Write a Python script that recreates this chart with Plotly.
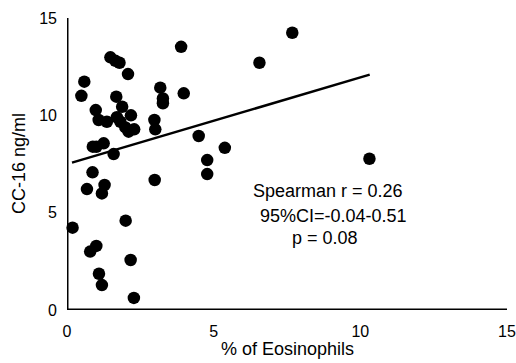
import plotly.graph_objects as go

eos = [0.19, 0.49, 0.59, 0.68, 0.79, 0.87, 0.88, 1.0, 0.98, 1.0, 1.08, 1.09, 1.19, 1.19,
       1.25, 1.28, 1.36, 1.48, 1.59, 1.65, 1.68, 1.70, 1.79, 1.82, 1.88, 1.99, 2.0,
       2.08, 2.1, 2.17, 2.18, 2.28, 2.29, 2.98, 2.99, 3.01, 3.18, 3.27, 3.27, 3.89,
       3.98, 4.49, 4.78, 4.78, 5.38, 6.56, 7.68, 10.31]
cc16 = [4.23, 11.0, 11.73, 6.21, 3.0, 7.07, 8.39, 8.38, 10.27, 3.29, 9.76, 1.86, 1.28, 5.99,
        8.56, 6.42, 9.67, 12.98, 8.01, 12.8, 10.96, 9.9, 12.7, 9.67, 10.44, 9.38, 4.59,
        12.12, 9.16, 2.57, 10.0, 0.62, 9.28, 9.76, 6.68, 9.28, 11.42, 10.87, 10.62, 13.52,
        11.13, 8.94, 7.7, 6.98, 8.33, 12.7, 14.24, 7.77]

fit_x = [0.17, 10.32]
fit_y = [7.57, 12.09]

stats_lines = ["Spearman r = 0.26", "95%CI=-0.04-0.51", "p = 0.08"]
stats_x = [6.28, 6.52, 7.6]
stats_y = [6.1, 4.85, 3.7]

tick_vals = [0, 5, 10, 15]
x_title = "% of Eosinophils"
y_title = "CC-16 ng/ml"

W, H = 516, 363
ML, MR, MT, MB = 67, 9, 18, 53
lo, hi = tick_vals[0], tick_vals[-1]
px_x = (W - ML - MR) / (hi - lo)   # pixels per x unit
px_y = (H - MT - MB) / (hi - lo)   # pixels per y unit

fig = go.Figure()
# axis frame (drawn as traces)
fig.add_trace(go.Scatter(x=[lo, lo, hi], y=[hi, lo, lo], mode="lines",
                         line=dict(color="black", width=3),
                         cliponaxis=False, hoverinfo="skip", showlegend=False))
fig.add_trace(go.Scatter(x=tick_vals, y=[lo - 4 / px_y] * len(tick_vals), mode="markers",
                         marker=dict(symbol="line-ns", size=8,
                                     line=dict(color="black", width=3)),
                         cliponaxis=False, hoverinfo="skip", showlegend=False))
fig.add_trace(go.Scatter(x=[lo - 3.5 / px_x] * len(tick_vals), y=tick_vals, mode="markers",
                         marker=dict(symbol="line-ew", size=7,
                                     line=dict(color="black", width=2)),
                         cliponaxis=False, hoverinfo="skip", showlegend=False))

fig.add_trace(go.Scatter(x=eos, y=cc16, mode="markers",
                         marker=dict(color="black", size=12.5),
                         cliponaxis=False, showlegend=False))
fig.add_trace(go.Scatter(x=fit_x, y=fit_y, mode="lines",
                         line=dict(color="black", width=2.5),
                         showlegend=False))

for t, xx, yy in zip(stats_lines, stats_x, stats_y):
    fig.add_annotation(x=xx, y=yy, text=t, showarrow=False, xanchor="left",
                       yanchor="middle", font=dict(size=18, color="black"))

fig.add_annotation(text=x_title, xref="paper", yref="paper", x=0.5, y=0,
                   yshift=-39, xanchor="center", yanchor="middle",
                   showarrow=False, font=dict(size=18, color="black"))
fig.add_annotation(text=y_title, xref="paper", yref="paper", x=0, y=0.5,
                   xshift=-48, xanchor="center", yanchor="middle", textangle=-90,
                   showarrow=False, font=dict(size=18, color="black"))

font_family = "Liberation Sans, Arial, Helvetica, sans-serif"

fig.update_layout(
    width=W, height=H,
    margin=dict(l=ML, r=MR, t=MT, b=MB, autoexpand=False),
    plot_bgcolor="white", paper_bgcolor="white",
    font=dict(family=font_family, color="black"),
    showlegend=False,
)
fig.update_xaxes(range=[lo, hi], tickvals=tick_vals, showgrid=False, zeroline=False,
                 showline=False, automargin=False, ticks="", ticklabelstandoff=10,
                 tickfont=dict(size=16, color="black"))
fig.update_yaxes(range=[lo, hi], tickvals=tick_vals, showgrid=False, zeroline=False,
                 showline=False, automargin=False, ticks="", ticklabelstandoff=9,
                 tickfont=dict(size=16, color="black"))

fig.write_html("out.html", config=dict(displayModeBar=False),
               post_script="document.body.style.margin='0';document.body.style.overflow='hidden';")
